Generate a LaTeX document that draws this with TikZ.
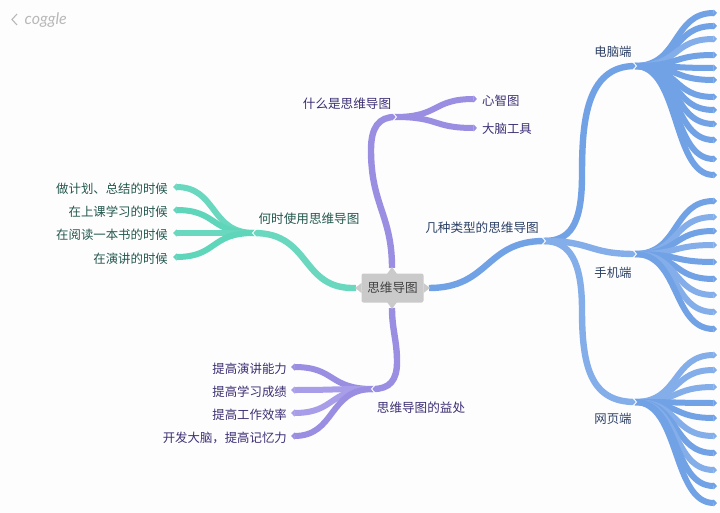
\documentclass[tikz,border=0pt]{standalone}
\usepackage{fontspec}
\setmainfont{Noto Sans CJK SC}
\newfontfamily\logofont{Lato}
\usetikzlibrary{arrows.meta,calc}
\definecolor{bgc}{HTML}{FDFDFE}
\definecolor{pur}{HTML}{9A8EE2}
\definecolor{purl}{HTML}{A89DE8}
\definecolor{tea}{HTML}{69D8BE}
\definecolor{teal2}{HTML}{5FD6BA}
\definecolor{blu}{HTML}{72A2E6}
\definecolor{blul}{HTML}{84AEE9}
\definecolor{tpur}{HTML}{3D2F73}
\definecolor{ttea}{HTML}{24584D}
\definecolor{tblu}{HTML}{2D4166}
\definecolor{boxc}{HTML}{CACACA}
\tikzset{
  mainline/.style={line width=6.4pt},
  leafline/.style={line width=6pt,-{Triangle[length=3.5pt,width=6.8pt]}},
  lab/.style={font=\fontsize{12.4}{14}\selectfont,inner sep=0pt,yshift=-0.7pt},
  notchline/.style={draw=bgc,line width=0.9pt}
}
\newcommand\leaf[3]{%
  \draw[leafline,#3] let \p1=(#1),\p2=(#2) in
    (#1) .. controls ({\x1+.55*(\x2-\x1)},\y1) and ({\x2-.55*(\x2-\x1)},\y2) .. (#2);}
\newcommand\notchR[1]{\draw[notchline] ([shift={(-2.5,-4.5)}]#1) -- ([shift={(1.5,0)}]#1) -- ([shift={(-2.5,4.5)}]#1);}
\newcommand\notchL[1]{\draw[notchline] ([shift={(2.5,-4.5)}]#1) -- ([shift={(-1.5,0)}]#1) -- ([shift={(2.5,4.5)}]#1);}
\begin{document}
\begin{tikzpicture}[x=1pt,y=-1pt]
\fill[bgc] (0,0) rectangle (720,513);
\useasboundingbox (0,0) rectangle (720,513);

% hubs
\coordinate (cT) at (392,268);
\coordinate (cB) at (392,308);
\coordinate (cL) at (356,288);
\coordinate (cR) at (429,288);
\coordinate (hWhat) at (395,117);
\coordinate (hWhen) at (254,233);
\coordinate (hGain) at (373,389);
\coordinate (hType) at (544,241);
\coordinate (hPC) at (635,66);
\coordinate (hPhone) at (635,254);
\coordinate (hWeb) at (635,402);

% leaves, right side
\foreach \i/\y/\c in {1/13/blu,2/26/blu,3/39/blul,4/55/blu,5/68/blu,6/80/blu,7/97/blu,8/110/blu,9/124/blu,10/140/blu,11/159/blu,12/175/blu}{
  \coordinate (pc\i) at (717,\y);
  \leaf{hPC}{pc\i}{\c}
}
\foreach \i/\y/\c in {1/201/blu,2/217/blul,3/231/blu,4/245/blul,5/262/blu,6/279/blu,7/295/blul,8/312/blul,9/329/blu}{
  \coordinate (ph\i) at (717,\y);
  \leaf{hPhone}{ph\i}{\c}
}
\foreach \i/\y/\c in {1/355/blul,2/370/blul,3/387/blul,4/403/blu,5/418/blu,6/436/blul,7/453/blu,8/470/blul,9/486/blu,10/503/blu}{
  \coordinate (wb\i) at (717,\y);
  \leaf{hWeb}{wb\i}{\c}
}

% labelled leaves
\node[lab,text=tpur,anchor=west] (xin) at (482,100) {心智图};
\node[lab,text=tpur,anchor=west] (nao) at (482,128) {大脑工具};
\coordinate (xinE) at (477,99);
\coordinate (naoE) at (477,128);
\leaf{hWhat}{xinE}{pur}
\leaf{hWhat}{naoE}{pur}

\node[lab,text=ttea,anchor=east] (w1) at (168,188) {做计划、总结的时候};
\node[lab,text=ttea,anchor=east] (w2) at (168,211) {在上课学习的时候};
\node[lab,text=ttea,anchor=east] (w3) at (168,234) {在阅读一本书的时候};
\node[lab,text=ttea,anchor=east] (w4) at (168,258) {在演讲的时候};
\coordinate (w1E) at (173,187);
\coordinate (w2E) at (173,210);
\coordinate (w3E) at (173,233);
\coordinate (w4E) at (173,257);
\leaf{hWhen}{w1E}{tea}
\leaf{hWhen}{w2E}{teal2}
\leaf{hWhen}{w3E}{tea}
\leaf{hWhen}{w4E}{teal2}

\node[lab,text=tpur,anchor=east] (g1) at (287,368) {提高演讲能力};
\node[lab,text=tpur,anchor=east] (g2) at (287,391) {提高学习成绩};
\node[lab,text=tpur,anchor=east] (g3) at (287,414) {提高工作效率};
\node[lab,text=tpur,anchor=east] (g4) at (287,437) {开发大脑，提高记忆力};
\coordinate (g1E) at (291,367);
\coordinate (g2E) at (291,390);
\coordinate (g3E) at (291,413);
\coordinate (g4E) at (291,436);
\leaf{hGain}{g1E}{pur}
\leaf{hGain}{g2E}{purl}
\leaf{hGain}{g3E}{purl}
\leaf{hGain}{g4E}{pur}

% main branches
\draw[mainline,pur] (cT) .. controls (392,215) and (371,205) .. (371,150) .. controls (371,127) and (379,117) .. (hWhat);
\draw[mainline,pur] (cB) .. controls (392,330) and (397,340) .. (397,362) .. controls (397,380) and (390,389) .. (hGain);
\draw[mainline,tea] (cL) .. controls (300,290) and (312,233) .. (hWhen);
\draw[mainline,blu] (cR) .. controls (490,288) and (485,241) .. (hType);
\draw[mainline,blu] (hType) .. controls (570,241) and (582,225) .. (582,175) .. controls (582,125) and (585,66) .. (hPC);
\draw[mainline,blul] (hType) .. controls (592,241) and (588,254) .. (hPhone);
\draw[mainline,blul] (hType) .. controls (570,241) and (582,262) .. (582,310) .. controls (582,365) and (590,402) .. (hWeb);

\notchR{hWhat} \notchR{hType} \notchR{hPC} \notchR{hPhone} \notchR{hWeb}
\notchL{hWhen} \notchL{hGain}

% center node
\fill[boxc] (392,267) -- (387,274) -- (397,274) -- cycle;
\fill[boxc] (392,309) -- (387,302) -- (397,302) -- cycle;
\fill[boxc] (355,288) -- (361.5,283) -- (361.5,293) -- cycle;
\fill[boxc] (430,288) -- (423.5,283) -- (423.5,293) -- cycle;
\node[fill=boxc,rounded corners=2pt,minimum width=62pt,minimum height=29pt,inner sep=0pt,
  text=black!75,font=\fontsize{12.6}{14}\selectfont] (center) at (392.5,288) {\raisebox{-0.7pt}{思维导图}};

% branch labels
\node[lab,text=tpur,font=\fontsize{12.6}{14}\selectfont] (what) at (347,103) {什么是思维导图};
\node[lab,text=ttea,font=\fontsize{12.6}{14}\selectfont] (when) at (309,218) {何时使用思维导图};
\node[lab,text=tpur,font=\fontsize{12.6}{14}\selectfont] (gain) at (421,407) {思维导图的益处};
\node[lab,text=tblu,font=\fontsize{12.6}{14}\selectfont] (type) at (482,227) {几种类型的思维导图};
\node[lab,text=tblu] (pc) at (613,51) {电脑端};
\node[lab,text=tblu] (phone) at (613,272) {手机端};
\node[lab,text=tblu] (web) at (613,418) {网页端};

% logo
\draw[black!28,line width=1.1pt] (17,14) -- (12,19.5) -- (17,25);
\node[text=black!28,font=\logofont\itshape\fontsize{16}{17}\selectfont,anchor=west,inner sep=0pt] (logo) at (24.5,20) {coggle};
\end{tikzpicture}
\end{document}
